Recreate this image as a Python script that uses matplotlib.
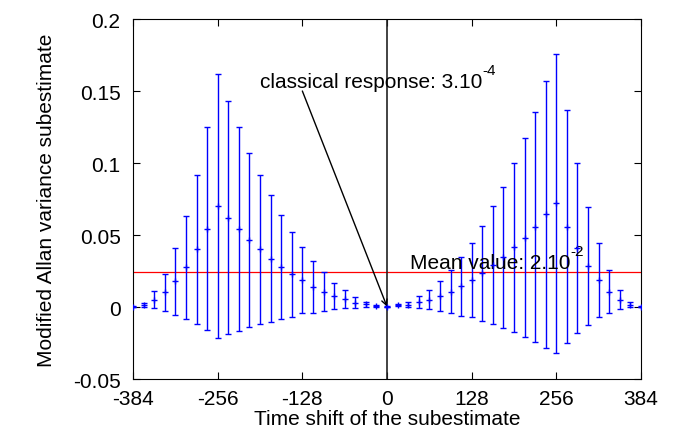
import numpy as np
import matplotlib
matplotlib.use('Agg')
import matplotlib.pyplot as plt

plt.rcParams['font.family'] = ['Liberation Sans', 'DejaVu Sans']

# time shifts of the subestimates
shifts = np.arange(-384, 385, 16)

# subestimate values
values = [0.0002, 0.0014, 0.0051, 0.0102, 0.0178, 0.0275, 0.040, 0.0544,
          0.0701, 0.062, 0.0544, 0.0465, 0.040, 0.0336, 0.028, 0.0227,
          0.0185, 0.0141, 0.0106, 0.0076, 0.0053, 0.003, 0.0019, 0.0009,
          0.0003,
          0.0012, 0.0016, 0.0035, 0.0051, 0.0076, 0.0106, 0.0144, 0.0188,
          0.0236, 0.0292, 0.0345, 0.0414, 0.0481, 0.0556, 0.0644, 0.072,
          0.0558, 0.041, 0.0287, 0.0188, 0.0106, 0.0051, 0.0016, 0.0002]

# error bar half-lengths
errors = [0.0005, 0.0016, 0.006, 0.013, 0.0233, 0.036, 0.052, 0.0706,
          0.0917, 0.081, 0.0708, 0.0607, 0.052, 0.044, 0.036, 0.0295,
          0.023, 0.018, 0.0134, 0.0093, 0.0063, 0.0037, 0.0017, 0.0008,
          0.0004,
          0.0008, 0.0017, 0.004, 0.0068, 0.0104, 0.015, 0.0203, 0.0257,
          0.033, 0.041, 0.049, 0.0587, 0.069, 0.080, 0.0926, 0.104,
          0.081, 0.059, 0.041, 0.026, 0.015, 0.0066, 0.0017, 0.0005]

mean_value = 0.024
classical = 0.0003

xticks = [-384, -256, -128, 0, 128, 256, 384]
yticks = [-0.05, 0, 0.05, 0.1, 0.15, 0.2]
ytick_labels = ['-0.05', '0', '0.05', '0.1', '0.15', '0.2']

fig = plt.figure(figsize=(6.77, 4.35), dpi=100)
ax = fig.add_axes([0.1965, 0.1264, 0.7503, 0.8276])

ax.errorbar(shifts, values, yerr=errors, fmt='+', color='#0000ff',
            ecolor='#0000ff', elinewidth=1, capsize=2.5, capthick=1,
            markersize=4, markeredgewidth=1, zorder=3)

ax.axhline(mean_value, color='#ff0000', lw=0.9, zorder=2)
ax.axvline(0, color='#222222', lw=1.2, zorder=2)


def label_with_power(x, y, base, power):
    """Text like 3.10^-4 with a plain hyphen in the exponent"""
    t = ax.text(x, y, base, fontsize=15, ha='left', va='baseline')
    ax.annotate(power, xy=(1, 0.72), xycoords=t, fontsize=11,
                ha='left', va='bottom')
    return t


label_with_power(-192, 0.153, 'classical response: 3.10', '-4')
ax.annotate('', xy=(0, classical), xytext=(-128, 0.150),
            arrowprops=dict(arrowstyle='->', color='black', lw=1,
                            shrinkA=0, shrinkB=0))

label_with_power(35, 0.027, 'Mean value: 2.10', '-2')

ax.set_xlim(-384, 384)
ax.set_ylim(-0.05, 0.2)
ax.set_xticks(xticks)
ax.set_xticklabels([str(t) for t in xticks])
ax.set_yticks(yticks)
ax.set_yticklabels(ytick_labels)
ax.tick_params(direction='in', length=5, top=True, right=True,
               labelsize=15)
ax.tick_params(axis='y', pad=9)
ax.tick_params(axis='x', pad=7)

ax.set_xlabel('Time shift of the subestimate', fontsize=15, labelpad=1)
ax.set_ylabel('Modified Allan variance subestimate', fontsize=15,
              labelpad=12)

fig.savefig('out.png', dpi=100)
